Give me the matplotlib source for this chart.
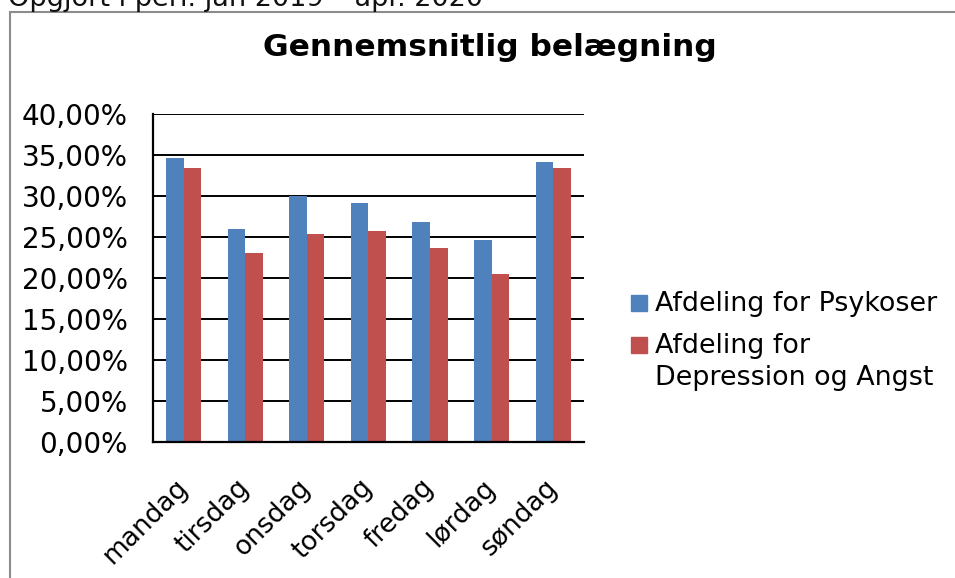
import matplotlib.pyplot as plt
from matplotlib.patches import Rectangle
from matplotlib.ticker import FuncFormatter
import numpy as np

days = ["mandag", "tirsdag", "onsdag", "torsdag", "fredag", "lørdag", "søndag"]
psykoser = [34.6, 26.0, 30.0, 29.2, 26.8, 24.6, 34.1]
depression = [33.4, 23.1, 25.4, 25.7, 23.6, 20.5, 33.4]
series_names = ["Afdeling for Psykoser", "Afdeling for\nDepression og Angst"]

blue = "#4F81BD"
red = "#C0504D"

plt.rcParams['font.family'] = ['DejaVu Sans']

fig = plt.figure(figsize=(9.55, 5.78), dpi=100)
ax = fig.add_axes([0.160, 0.2353, 0.4515, 0.5675])

x = np.arange(len(days))
w = 0.287
ax.bar(x - w / 2, psykoser, w, color=blue, zorder=3)
ax.bar(x + w / 2, depression, w, color=red, zorder=3)

ax.set_xlim(-0.5, len(days) - 0.5)
ax.set_ylim(0, 40)
ax.set_yticks(np.arange(0, 41, 5))
ax.yaxis.set_major_formatter(FuncFormatter(lambda v, p: ("%.2f%%" % v).replace(".", ",")))
ax.grid(axis='y', color='black', linewidth=1.4, zorder=1)
for s in ['top', 'right']:
    ax.spines[s].set_visible(False)
for s in ['left', 'bottom']:
    ax.spines[s].set_linewidth(1.6)
    ax.spines[s].set_zorder(4)

ax.tick_params(axis='y', labelsize=20, length=0, pad=18)
ax.set_xticks(x)
ax.set_xticklabels(days, rotation=45, ha='right', va='center',
                   rotation_mode='anchor', fontsize=19)
ax.tick_params(axis='x', length=0, pad=30)

fig.text(0.513, 0.918, "Gennemsnitlig belægning", ha='center', va='center',
         fontsize=22.5, fontweight='bold')
fig.text(0.008, 1 - 5.5 / 578, "Opgjort i peri. jan 2019 – apr. 2020", ha='left', va='baseline',
         fontsize=19.5, color='#111111')

fig.patches.append(Rectangle((9.5 / 955, -0.1), 1.2, 1.1 - 12 / 578,
                             transform=fig.transFigure, fill=False,
                             edgecolor='#8c8c8c', linewidth=1.5))

# legend, drawn by hand so the red square sits on the first text line
leg_x = 631 / 955
row_y = [1 - 303 / 578, 1 - 345 / 578]
sq_w, sq_h = 16 / 955, 16 / 578
for name, col, yy in zip(series_names, [blue, red], row_y):
    fig.patches.append(Rectangle((leg_x, yy - sq_h / 2), sq_w, sq_h,
                                 transform=fig.transFigure, color=col))
    fig.text(655 / 955, yy + 0.021, name, ha='left', va='top', fontsize=19.4,
             linespacing=1.3)

fig.savefig("out.png", dpi=100)
